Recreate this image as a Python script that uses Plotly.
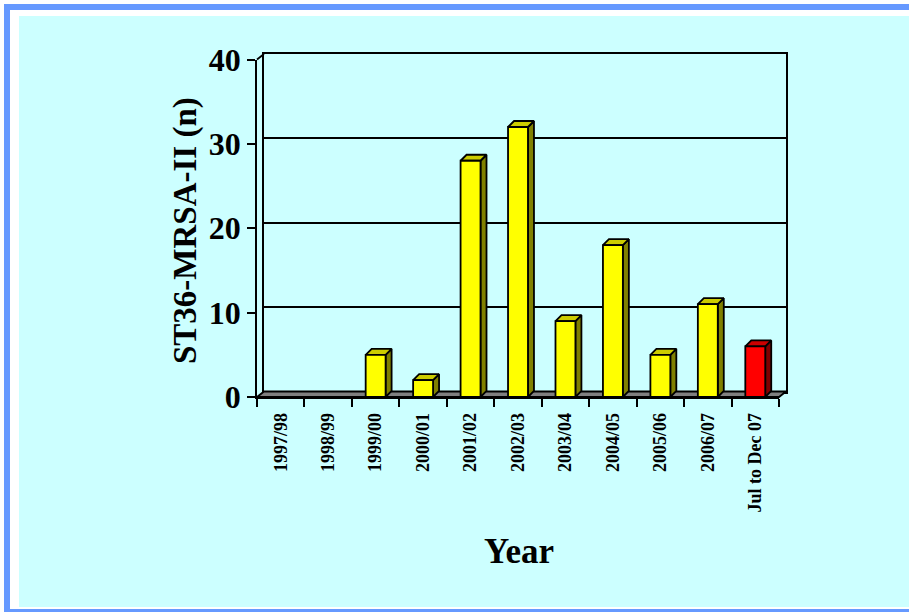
import plotly.graph_objects as go

# ---- data ----
CATEGORIES = ["1997/98", "1998/99", "1999/00", "2000/01", "2001/02", "2002/03",
              "2003/04", "2004/05", "2005/06", "2006/07", "Jul to Dec 07"]
VALUES = [0, 0, 5, 2, 28, 32, 9, 18, 5, 11, 6]
HIGHLIGHT = ["Jul to Dec 07"]
Y_TITLE = "ST36-MRSA-II (n)"
X_TITLE = "Year"

# ---- styles / geometry (pixels) ----
W, H = 909, 612
FX0, FX1 = 257, 779          # front plot x extent
FY_TOP, FY_BOT = 59.5, 397   # front plot y extent (40 -> 0)
WALL_DX, WALL_DY = 7, 5.5    # back wall offset (right, up)
BAR_DX, BAR_DY = 6, 6        # bar depth
BAR_W = 0.42
YMAX = 40

FONT = "Liberation Serif"
COL_Y = dict(front="#FFFF00", side="#808000", top="#CCCC00")
COL_R = dict(front="#FF0000", side="#800000", top="#CC0000")
FLOOR = "#808080"
LW = 1.8

ncat = len(CATEGORIES)
CW = (FX1 - FX0) / ncat
UH = (FY_BOT - FY_TOP) / YMAX


def px(x):
    return x / W


def py(y):
    return 1 - y / H


fig = go.Figure()

# overlay drawing area (same scale as the front axes)
OX0, OX1, OY0, OY1 = 248, 800, 40, 404
x3_range = [(OX0 - FX0) / CW - 0.5, (OX1 - FX0) / CW - 0.5]
y3_range = [(FY_BOT - OY1) / UH, (FY_BOT - OY0) / UH]
dxu, dyu = WALL_DX / CW, WALL_DY / UH
bdx, bdy = BAR_DX / CW, BAR_DY / UH

# invisible trace to register categories on front axis
fig.add_trace(go.Scatter(x=CATEGORIES, y=VALUES, xaxis="x2", yaxis="y2",
                         mode="markers", marker=dict(opacity=0),
                         hoverinfo="skip", showlegend=False))
# dummy trace on back wall axes
fig.add_trace(go.Scatter(x=[0], y=[0], xaxis="x", yaxis="y", mode="markers",
                         marker=dict(opacity=0), hoverinfo="skip", showlegend=False))


def poly(xs, ys, fill):
    fig.add_trace(go.Scatter(x=xs + [xs[0]], y=ys + [ys[0]], xaxis="x3", yaxis="y3",
                             mode="lines", fill="toself", fillcolor=fill,
                             line=dict(color="black", width=LW),
                             hoverinfo="skip", showlegend=False))


# floor
lo, hi = -0.5, ncat - 0.5
poly([lo, hi, hi + dxu, lo + dxu], [0, 0, dyu, dyu], FLOOR)
# top-left diagonal of side wall
fig.add_trace(go.Scatter(x=[lo, lo + dxu], y=[YMAX, YMAX + dyu], xaxis="x3", yaxis="y3",
                         mode="lines", line=dict(color="black", width=LW),
                         hoverinfo="skip", showlegend=False))

for i, (cat, v) in enumerate(zip(CATEGORIES, VALUES)):
    if v <= 0:
        continue
    c = COL_R if cat in HIGHLIGHT else COL_Y
    x0, x1 = i - BAR_W / 2, i + BAR_W / 2
    poly([x1, x1 + bdx, x1 + bdx, x1], [0, bdy, v + bdy, v], c["side"])
    poly([x0, x1, x1 + bdx, x0 + bdx], [v, v, v + bdy, v + bdy], c["top"])
    poly([x0, x1, x1, x0], [0, 0, v, v], c["front"])

shapes = [
    dict(type="rect", xref="paper", yref="paper", x0=px(4), x1=px(930), y0=py(4), y1=py(630),
         fillcolor="#6699FF", line=dict(width=0), layer="below"),
    dict(type="rect", xref="paper", yref="paper", x0=px(10), x1=px(930), y0=py(10), y1=py(609),
         fillcolor="white", line=dict(width=0), layer="below"),
    dict(type="rect", xref="paper", yref="paper", x0=px(19), x1=px(930), y0=py(16), y1=py(607),
         fillcolor="#CCFFFF", line=dict(width=0), layer="below"),
]

annotations = [
    dict(text=Y_TITLE, xref="paper", yref="paper", x=px(185), y=py(231), textangle=-90,
         showarrow=False, xanchor="center", yanchor="middle",
         font=dict(family=FONT, size=33, color="black", weight="bold")),
    dict(text=X_TITLE, xref="paper", yref="paper", x=px(519), y=py(551),
         showarrow=False, xanchor="center", yanchor="middle",
         font=dict(family=FONT, size=35, color="black", weight="bold")),
]

fig.update_layout(
    template="none",
    width=W, height=H,
    margin=dict(l=0, r=0, t=0, b=0),
    paper_bgcolor="white",
    plot_bgcolor="rgba(0,0,0,0)",
    showlegend=False,
    shapes=shapes,
    annotations=annotations,
    # back wall
    xaxis=dict(domain=[px(FX0 + WALL_DX), px(FX1 + WALL_DX)], range=[0, 1],
               showline=True, mirror=True, linecolor="black", linewidth=LW,
               showgrid=False, zeroline=False, showticklabels=False, ticks="",
               automargin=False, fixedrange=True),
    yaxis=dict(domain=[py(FY_BOT - WALL_DY), py(FY_TOP - WALL_DY)], range=[0, YMAX],
               showline=True, mirror=True, linecolor="black", linewidth=LW,
               showgrid=True, gridcolor="black", gridwidth=LW, dtick=10, tick0=0,
               zeroline=False, showticklabels=False, ticks="",
               automargin=False, fixedrange=True),
    # front axes
    xaxis2=dict(domain=[px(FX0), px(FX1)], anchor="y2", type="category",
                categoryorder="array", categoryarray=CATEGORIES,
                range=[-0.5, ncat - 0.5], tickson="boundaries",
                ticks="outside", ticklen=8, tickwidth=LW, tickcolor="black",
                showline=True, linecolor="black", linewidth=LW,
                showgrid=False, zeroline=False, tickangle=-90, ticklabelstandoff=7,
                tickfont=dict(family=FONT, size=18, color="black", weight="bold"),
                automargin=False, fixedrange=True),
    yaxis2=dict(domain=[py(FY_BOT), py(FY_TOP)], anchor="x2", range=[0, YMAX],
                dtick=10, tick0=0, ticks="outside", ticklen=8, tickwidth=LW,
                tickcolor="black", showline=True, linecolor="black", linewidth=LW,
                showgrid=False, zeroline=False,
                tickfont=dict(family=FONT, size=32, color="black", weight="bold"),
                automargin=False, fixedrange=True),
    # overlay drawing area
    xaxis3=dict(domain=[px(OX0), px(OX1)], anchor="y3", range=x3_range, visible=False,
                fixedrange=True),
    yaxis3=dict(domain=[py(OY1), py(OY0)], anchor="x3", range=y3_range, visible=False,
                fixedrange=True),
)

fig.write_html("out.html", config={"displayModeBar": False},
               post_script="document.body.style.margin='0';")
